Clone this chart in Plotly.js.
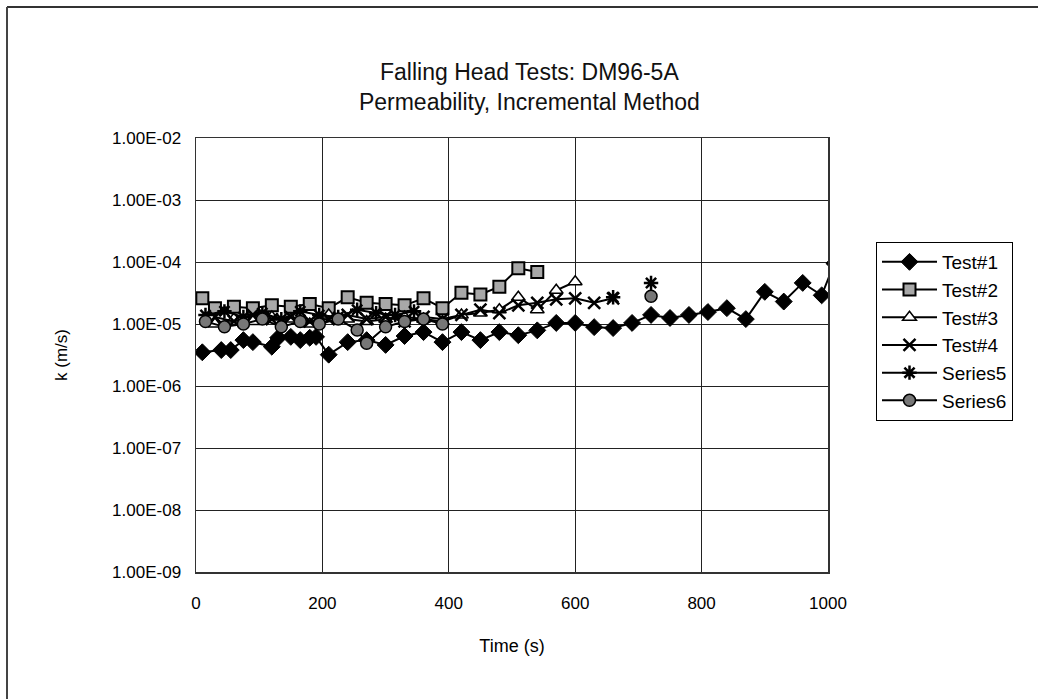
<!DOCTYPE html>
<html>
<head>
<meta charset="utf-8">
<script src="https://cdn.plot.ly/plotly-3.0.1.min.js"></script>
<style>
html,body{margin:0;padding:0;background:#fff;}
#chart{width:1038px;height:699px;}
</style>
</head>
<body>
<div id="chart"></div>
<script>
// ---- data ----
var test1Time = [10,40,55,75,90,120,130,150,165,180,190,210,240,270,300,330,360,390,420,450,480,510,540,570,600,630,660,690,720,750,780,810,840,870,900,930,960,990,1010];
var test1K = [3.5e-6,3.8e-6,3.8e-6,5.5e-6,5.1e-6,4.3e-6,6.0e-6,6.2e-6,5.5e-6,6.0e-6,6.2e-6,3.2e-6,5.1e-6,5.5e-6,4.6e-6,6.4e-6,7.4e-6,5.1e-6,7.4e-6,5.5e-6,7.4e-6,6.6e-6,7.9e-6,1.04e-5,1.04e-5,8.9e-6,8.6e-6,1.04e-5,1.4e-5,1.25e-5,1.4e-5,1.56e-5,1.8e-5,1.2e-5,3.3e-5,2.3e-5,4.6e-5,2.9e-5,9.5e-5];

var test2Time = [10,30,60,90,120,150,180,210,240,270,300,330,360,390,420,450,480,510,540];
var test2K = [2.6e-5,1.8e-5,1.9e-5,1.8e-5,2.0e-5,1.9e-5,2.1e-5,1.8e-5,2.7e-5,2.2e-5,2.1e-5,2.0e-5,2.6e-5,1.8e-5,3.2e-5,3.0e-5,4.0e-5,7.9e-5,6.9e-5];

var test3Time = [30,60,90,120,150,180,210,240,270,300,330,360,390,420,450,480,510,540,570,600];
var test3K = [1.0e-5,1.2e-5,1.1e-5,1.3e-5,1.2e-5,1.0e-5,1.4e-5,1.2e-5,1.1e-5,1.2e-5,1.3e-5,1.2e-5,1.1e-5,1.4e-5,1.5e-5,1.7e-5,2.7e-5,1.7e-5,3.5e-5,4.8e-5];

var test4Time = [30,60,90,120,150,180,210,240,270,300,330,360,390,420,450,480,510,540,570,600,630,660];
var test4K = [1.3e-5,1.1e-5,1.4e-5,1.2e-5,1.3e-5,1.1e-5,1.2e-5,1.4e-5,1.2e-5,1.3e-5,1.1e-5,1.3e-5,1.2e-5,1.4e-5,1.7e-5,1.5e-5,2.0e-5,2.2e-5,2.5e-5,2.6e-5,2.2e-5,2.6e-5];

var series5Time = [15,45,75,105,135,165,195,225,255,285,315,345,500,660,690,720];
var series5K = [1.4e-5,1.6e-5,1.3e-5,1.5e-5,1.2e-5,1.6e-5,1.4e-5,1.3e-5,1.7e-5,1.5e-5,1.4e-5,1.6e-5,null,2.7e-5,null,4.6e-5];

var series6Time = [15,45,75,105,135,165,195,225,255,270,300,330,360,390,600,720];
var series6K = [1.1e-5,9e-6,1.0e-5,1.2e-5,9e-6,1.1e-5,1.0e-5,1.2e-5,8e-6,4.9e-6,9e-6,1.1e-5,1.2e-5,1.0e-5,null,2.8e-5];

var yTickVals = [1e-9,1e-8,1e-7,1e-6,1e-5,1e-4,1e-3,1e-2];
var yTickText = ["1.00E-09","1.00E-08","1.00E-07","1.00E-06","1.00E-05","1.00E-04","1.00E-03","1.00E-02"];
var xTickVals = [0,200,400,600,800,1000];

// ---- traces ----
var FONT = "Liberation Sans, Arial, sans-serif";
function tr(name, x, y, marker, grp){
  return {type:'scatter', mode:'lines+markers', name:name, x:x, y:y,
    line:{color:'#000', width:2}, marker:marker, connectgaps:false,
    legendgroup:grp};
}
var data = [
  tr('Test#1', test1Time, test1K, {symbol:'diamond', size:13, color:'#000', line:{color:'#000', width:1}}, 'g1'),
  tr('Test#2', test2Time, test2K, {symbol:'square', size:12, color:'#a8a8a8', line:{color:'#000', width:2}}, 'g2'),
  tr('Test#3', test3Time, test3K, {symbol:'triangle-up', size:12, color:'#fff', line:{color:'#000', width:1.5}}, 'g3'),
  tr('Test#4', test4Time, test4K, {symbol:'x-thin', size:12, color:'#000', line:{color:'#000', width:2.5}}, 'g4'),
  tr('Series5', series5Time, series5K, {symbol:'asterisk', size:12, color:'#000', line:{color:'#000', width:2.5}}, 'g5'),
  tr('Series6', series6Time, series6K, {symbol:'circle', size:12, color:'#777', line:{color:'#000', width:1.5}}, 'g6')
];

var L = 196, R = 828, T = 138, B = 572;
function px(xp){ return (xp - L) / (R - L); }
function py(yp){ return (B - yp) / (B - T); }

var layout = {
  width:1038, height:699,
  margin:{l:196, r:210, t:138, b:127, pad:0},
  paper_bgcolor:'#fff', plot_bgcolor:'#fff',
  font:{family:FONT, color:'#000', size:16},
  title:{text:'Falling Head Tests: DM96-5A<br>Permeability, Incremental Method',
    font:{family:FONT, size:23, color:'#111'},
    x:0.51, xanchor:'center', y:1-80/699, yanchor:'middle', yref:'container'},
  xaxis:{type:'linear', range:[0,1000], tickvals:xTickVals,
    showgrid:true, gridcolor:'#222', gridwidth:1,
    showline:true, linecolor:'#333', linewidth:1.5, mirror:true,
    zeroline:false, ticks:'', ticklabelstandoff:15,
    tickfont:{family:FONT, size:17},
    title:{text:'Time (s)', font:{family:FONT, size:18}, standoff:27},
    automargin:true},
  yaxis:{type:'log', range:[-9,-2], tickvals:yTickVals, ticktext:yTickText,
    showgrid:true, gridcolor:'#222', gridwidth:1,
    showline:true, linecolor:'#333', linewidth:1.5, mirror:true,
    zeroline:false, ticks:'', ticklabelstandoff:10,
    tickfont:{family:FONT, size:17},
    title:{text:'k (m/s)', font:{family:FONT, size:17}, standoff:40},
    automargin:true},
  showlegend:true,
  legend:{x:px(876), y:py(242), xanchor:'left', yanchor:'top',
    bordercolor:'#000', borderwidth:1, bgcolor:'#fff',
    font:{family:FONT, size:19}, traceorder:'grouped', tracegroupgap:0,
    itemwidth:55},
  shapes:[
    {type:'line', xref:'paper', yref:'paper', x0:px(7), x1:px(1040), y0:py(7), y1:py(7), line:{color:'#333', width:2}},
    {type:'line', xref:'paper', yref:'paper', x0:px(7), x1:px(7), y0:py(7), y1:py(700), line:{color:'#444', width:2}}
  ]
};

Plotly.newPlot('chart', data, layout, {displayModeBar:false, staticPlot:true});
</script>
</body>
</html>
